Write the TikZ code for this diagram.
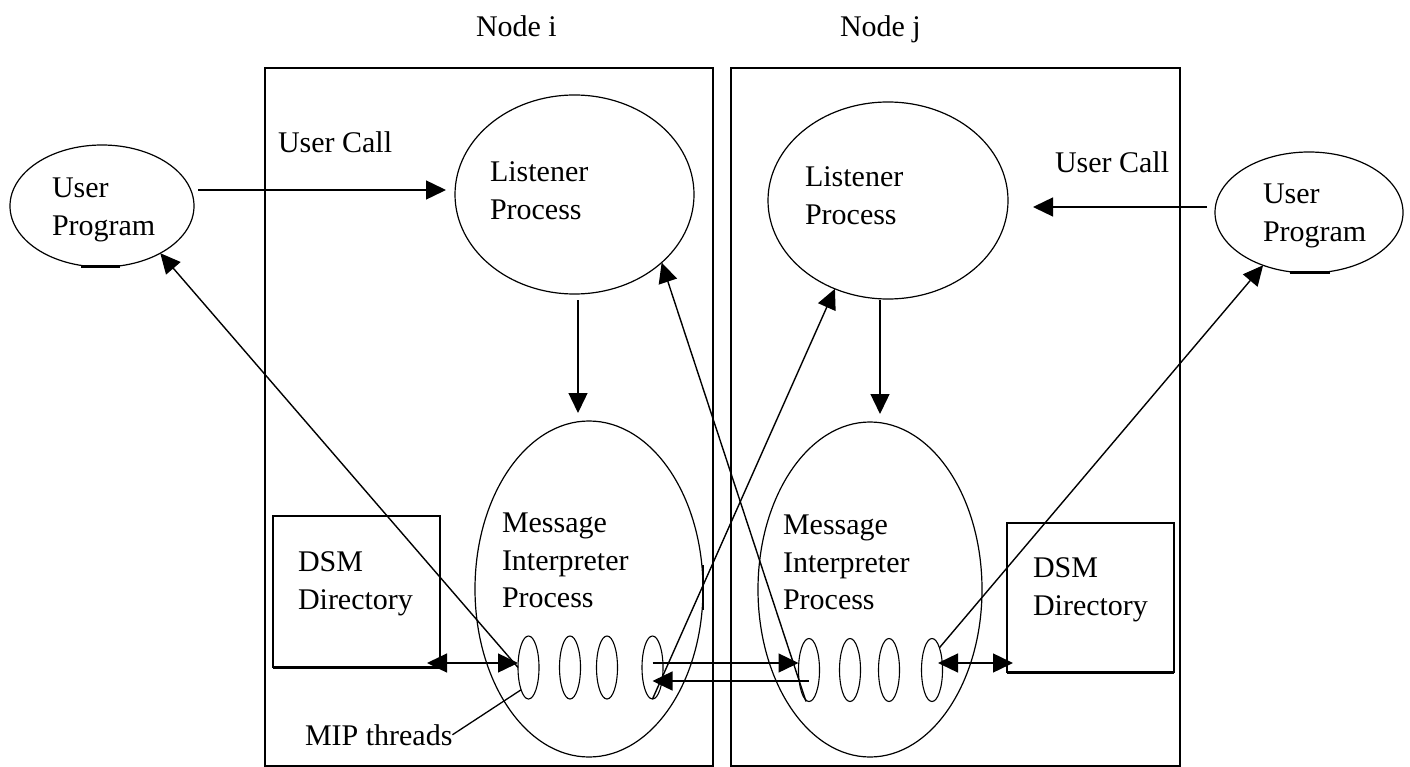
\documentclass[tikz,border=0pt]{standalone}
\usepackage{fontspec}
\setmainfont{Liberation Serif}
\usetikzlibrary{shapes.geometric,arrows.meta}
\begin{document}
\begin{tikzpicture}[x=1pt,y=-1pt,
  every node/.style={inner sep=0pt, outer sep=0pt},
  ell/.style={draw, ellipse, line width=1.2pt},
  thr/.style={draw, ellipse, line width=1.1pt, minimum width=21pt, minimum height=63pt},
  box/.style={draw, rectangle, line width=1.3pt, anchor=north west},
  frame/.style={draw, rectangle, line width=1.6pt, anchor=north west},
  txt/.style={font=\fontsize{30}{37.5}\selectfont, align=left, anchor=north west},
  lbl/.style={font=\fontsize{30}{37.5}\selectfont, anchor=base west},
  arr/.style={line width=1.4pt, -{Triangle[length=20pt,width=19pt]}},
  darr/.style={line width=1.4pt, {Triangle[length=20pt,width=19pt]}-{Triangle[length=20pt,width=19pt]}},
  plain/.style={line width=1.3pt}
]
\useasboundingbox (0,0) rectangle (1410,767);

% frames
\node[frame, minimum width=448pt, minimum height=698pt] (BoxI) at (265,68) {};
\node[frame, minimum width=449pt, minimum height=698pt] (BoxJ) at (731,68) {};
\node[lbl] (TitleI) at (476,37) {Node i};
\node[lbl] (TitleJ) at (840,37) {Node j};

% user programs
\node[ell, minimum width=184pt, minimum height=122pt] (UPL) at (102,206) {};
\node[ell, minimum width=188pt, minimum height=121pt] (UPR) at (1309,212.5) {};
\node[txt] (UPLt) at (52,178) {User\\Program};
\node[txt] (UPRt) at (1263,184) {User\\Program};
\draw[line width=3pt] ([xshift=-21pt]UPL.south) -- ([xshift=18pt]UPL.south);
\draw[line width=3pt] ([xshift=-19pt]UPR.south) -- ([xshift=21pt]UPR.south);

% user call labels
\node[lbl] (UCL) at (278,153) {User Call};
\node[lbl] (UCR) at (1055,173) {User Call};

% listeners
\node[ell, minimum width=239pt, minimum height=199pt] (LPL) at (574.5,194.5) {};
\node[ell, minimum width=240pt, minimum height=197pt] (LPR) at (888,200.5) {};
\node[txt] (LPLt) at (490,162) {Listener\\Process};
\node[txt] (LPRt) at (805,167) {Listener\\Process};

% message interpreters
\node[ell, minimum width=228pt, minimum height=336pt] (MPL) at (589,589) {};
\node[ell, minimum width=224pt, minimum height=335pt] (MPR) at (870,589.5) {};
\node[txt] (MPLt) at (502,513) {Message\\Interpreter\\Process};
\node[txt] (MPRt) at (783,515) {Message\\Interpreter\\Process};
\draw[line width=2.6pt] ([yshift=24pt]MPL.east) -- ([yshift=-21pt]MPL.east);

% DSM directories
\node[box, minimum width=167pt, minimum height=151pt] (DL) at (273,516) {};
\node[box, minimum width=167pt, minimum height=149pt] (DR) at (1007,523) {};
\draw[line width=3pt] (DL.south west) -- (DL.south east);
\draw[line width=3pt] (DR.south west) -- (DR.south east);
\node[txt] (DLt) at (298,552) {DSM\\Directory};
\node[txt] (DRt) at (1033,558) {DSM\\Directory};

% threads
\node[thr] (TL1) at (528.5,667.5) {};
\node[thr] (TL2) at (570,667.5) {};
\node[thr] (TL3) at (607,667.5) {};
\node[thr] (TL4) at (652.5,667.5) {};
\node[thr] (TR1) at (809,670) {};
\node[thr] (TR2) at (850,670) {};
\node[thr] (TR3) at (889,670) {};
\node[thr] (TR4) at (932,670) {};
\node[lbl] (MT) at (305,745) {MIP threads};
\draw[plain] (MT.east) -- (TL1.south west);

% connectors
\draw[arr, shorten <=4pt, shorten >=9pt] ([yshift=16pt]UPL.east) -- ([yshift=16pt]UPL.east -| LPL.west);
\draw[arr, shorten <=8pt, shorten >=25pt] ([yshift=5.5pt]UPR.west) -- ([yshift=5.5pt]UPR.west -| LPR.east);
\draw[arr, shorten <=6pt, shorten >=8pt] ([xshift=3.5pt]LPL.south) -- ([xshift=3.5pt]LPL.south |- MPL.north);
\draw[arr, shorten <=1pt, shorten >=8pt] ([xshift=-8pt]LPR.south) -- ([xshift=-8pt]LPR.south |- MPR.north);

\draw[arr] (TL1.west) -- (UPL.-39);
\draw[arr] ([xshift=-3pt]TR1.south) -- (LPL.-38);
\draw[arr] (TL4.south) -- (LPR.-121);
\draw[arr] (TR4.north east) -- (UPR.-131);

\draw[darr, shorten >=-13pt] ([yshift=4.5pt]TL1.west) -- ([yshift=4.5pt]TL1.west -| DL.east);
\draw[arr] ([yshift=4.5pt]TL4.center) -- ([yshift=4.5pt]TL4.center -| TR1.west);
\draw[arr] ([yshift=-11pt]TR1.center) -- ([yshift=-11pt]TR1.center -| TL4.center);
\draw[darr, shorten >=-6pt] ([yshift=7pt,xshift=6pt]TR4.center) -- ([yshift=7pt]TR4.center -| DR.west);
\end{tikzpicture}
\end{document}
